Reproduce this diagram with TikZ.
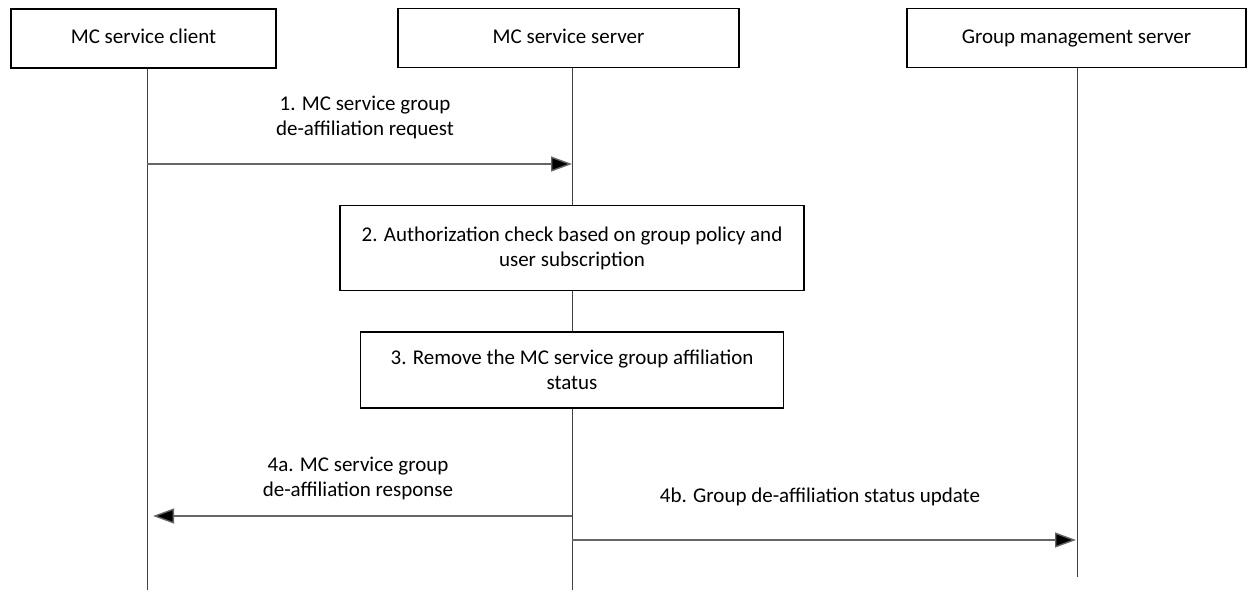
\documentclass[tikz,border=0pt]{standalone}
\usepackage{fontspec}
\setmainfont{Carlito}
\usetikzlibrary{arrows.meta, positioning}

\tikzset{
  txt/.style={font=\fontsize{21}{25}\selectfont, align=center, inner sep=0pt},
  entity/.style={txt, draw, line width=1.6pt, minimum height=59pt,
    text height=14pt, text depth=4pt},
  stepbox/.style={txt, draw, line width=1.6pt},
  lifeline/.style={line width=1pt, draw=black!75},
  msg/.style={line width=1.4pt, draw=black!60,
    -{Triangle[length=21pt, width=15pt, fill=black]}},
}

\begin{document}
\begin{tikzpicture}[x=1pt, y=-1pt]
  \useasboundingbox (0,0) rectangle (1247,590);

  % entities
  \node[entity, minimum width=265pt] (cli) at (143.5,38.5) {MC service client};
  \node[entity, minimum width=341pt] (srv) at (568.5,38) {MC service server};
  \node[entity, minimum width=339pt] (gms) at (1076.5,38) {Group management server};

  % local steps on the server
  \node[stepbox, minimum width=464pt, minimum height=85pt] (auth) at (572,248)
    {2. Authorization check based on group policy and\\user subscription};
  \node[stepbox, minimum width=423pt, minimum height=76pt] (remove) at (572,370)
    {3. Remove the MC service group affiliation\\status};

  % lifelines
  \coordinate (cliend) at (147,590);
  \coordinate (srvend) at (572,590);
  \coordinate (gmsend) at (1077,577);
  \draw[lifeline] (cli.south -| cliend) -- (cliend);
  \draw[lifeline] (srv.south -| srvend) -- (auth.north);
  \draw[lifeline] (auth.south) -- (remove.north);
  \draw[lifeline] (remove.south) -- (srvend);
  \draw[lifeline] (gms.south -| gmsend) -- (gmsend);

  % messages
  \coordinate (m1a) at (147,164);
  \coordinate (m1b) at (572,164);
  \draw[msg] (m1a) -- (m1b);
  \node[txt] (l1) at (365,117) {1. MC service group\\de-affiliation request};

  \coordinate (m4aa) at (572,516);
  \coordinate (m4ab) at (153,516);
  \draw[msg] (m4aa) -- (m4ab);
  \node[txt] (l4a) at (358,478) {4a. MC service group\\de-affiliation response};

  \coordinate (m4ba) at (572,540);
  \coordinate (m4bb) at (1076,540);
  \draw[msg] (m4ba) -- (m4bb);
  \node[txt] (l4b) at (820,497) {4b. Group de-affiliation status update};
\end{tikzpicture}
\end{document}
